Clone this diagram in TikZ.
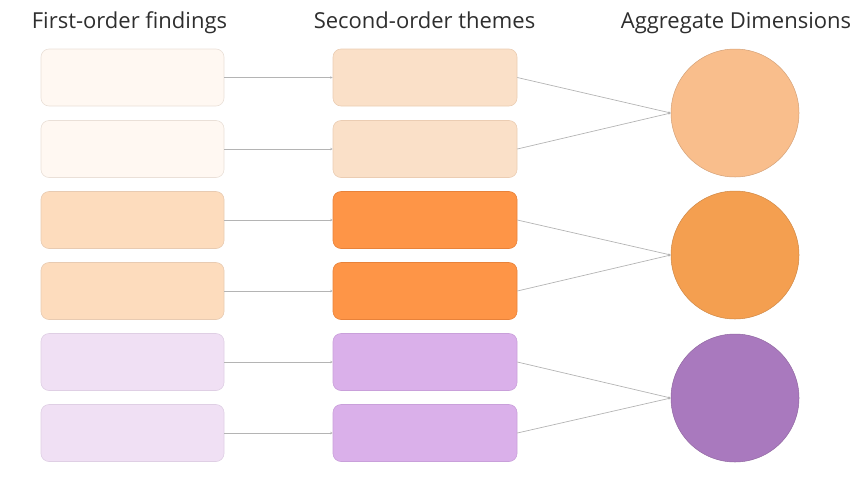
\documentclass[tikz,border=0pt]{standalone}
\usepackage{fontspec}
\setmainfont{Open Sans}
\usetikzlibrary{arrows.meta}
\definecolor{peachpale}{HTML}{FFF8F2}
\definecolor{peachpaleline}{HTML}{EAE0D8}
\definecolor{peachlight}{HTML}{FDDCBD}
\definecolor{peachlightline}{HTML}{E8CBB2}
\definecolor{lilacpale}{HTML}{F0E0F4}
\definecolor{lilacpaleline}{HTML}{DFCFE4}
\definecolor{peachmid}{HTML}{FAE0C8}
\definecolor{peachmidline}{HTML}{EBCDB3}
\definecolor{orangebox}{HTML}{FE9547}
\definecolor{orangeboxline}{HTML}{E8823A}
\definecolor{lilacbox}{HTML}{DAB0EA}
\definecolor{lilacboxline}{HTML}{C9A0DA}
\definecolor{circpeach}{HTML}{F9BE8C}
\definecolor{circorange}{HTML}{F49F50}
\definecolor{circpurple}{HTML}{A979BE}
\definecolor{linkgrey}{HTML}{B4B4B4}
\definecolor{headtext}{HTML}{2E2E2E}
\tikzset{
  x=1pt, y=-1pt,
  finding/.style={rectangle, rounded corners=8pt, minimum width=183pt, minimum height=57pt, line width=0.6pt, inner sep=0pt},
  theme/.style={rectangle, rounded corners=8pt, minimum width=184pt, minimum height=57pt, line width=0.6pt, inner sep=0pt},
  dimension/.style={circle, minimum size=128pt, inner sep=0pt, line width=0.5pt},
  header/.style={font=\fontsize{22}{26}\selectfont, text=headtext, anchor=base, inner sep=0pt},
  link/.style={draw=linkgrey, line width=0.7pt, -{Stealth[length=2.5pt,width=2.5pt]}}
}
\begin{document}
\begin{tikzpicture}
\useasboundingbox (0,0) rectangle (866,480);
% column headings
\node[header] (h1) at (129.5,28) {First-order findings};
\node[header] (h2) at (424.5,28) {Second-order themes};
\node[header] (h3) at (736,28) {Aggregate Dimensions};
% first-order findings
\node[finding, fill=peachpale, draw=peachpaleline] (f1) at (132.5,77.5) {};
\node[finding, fill=peachpale, draw=peachpaleline] (f2) at (132.5,149) {};
\node[finding, fill=peachlight, draw=peachlightline] (f3) at (132.5,220) {};
\node[finding, fill=peachlight, draw=peachlightline] (f4) at (132.5,291) {};
\node[finding, fill=lilacpale, draw=lilacpaleline] (f5) at (132.5,362) {};
\node[finding, fill=lilacpale, draw=lilacpaleline] (f6) at (132.5,433) {};
% second-order themes
\node[theme, fill=peachmid, draw=peachmidline] (t1) at (425,77.5) {};
\node[theme, fill=peachmid, draw=peachmidline] (t2) at (425,149) {};
\node[theme, fill=orangebox, draw=orangeboxline] (t3) at (425,220) {};
\node[theme, fill=orangebox, draw=orangeboxline] (t4) at (425,291) {};
\node[theme, fill=lilacbox, draw=lilacboxline] (t5) at (425,362) {};
\node[theme, fill=lilacbox, draw=lilacboxline] (t6) at (425,433) {};
% aggregate dimensions
\node[dimension, fill=circpeach, draw=circpeach!85!black] (d1) at (735,113) {};
\node[dimension, fill=circorange, draw=circorange!85!black] (d2) at (735,255) {};
\node[dimension, fill=circpurple, draw=circpurple!85!black] (d3) at (735,398) {};
% findings to themes
\foreach \i in {1,...,6} {
  \draw[link] (f\i.east) -- (t\i.west);
}
% themes to dimensions
\draw[link] (t1.east) -- (d1.west);
\draw[link] (t2.east) -- (d1.west);
\draw[link] (t3.east) -- (d2.west);
\draw[link] (t4.east) -- (d2.west);
\draw[link] (t5.east) -- (d3.west);
\draw[link] (t6.east) -- (d3.west);
\end{tikzpicture}
\end{document}
